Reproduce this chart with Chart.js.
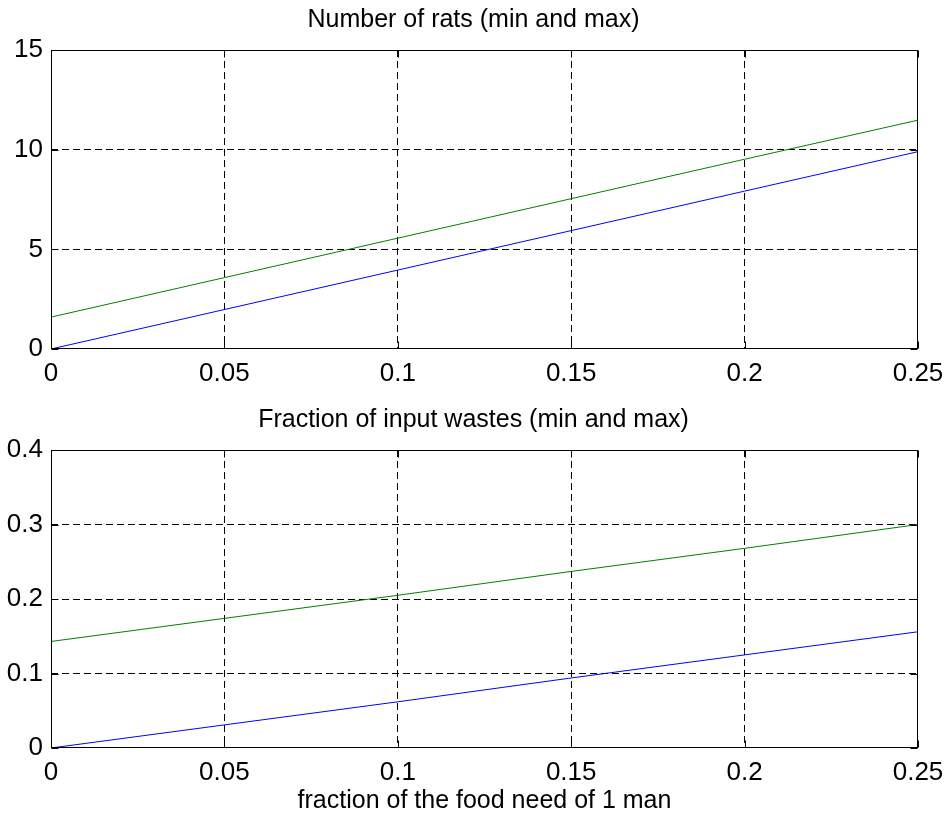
<!DOCTYPE html>
<html>
<head>
<meta charset="utf-8">
<script src="https://cdn.jsdelivr.net/npm/chart.js@4.4.1/dist/chart.umd.min.js"></script>
<style>
  html, body { margin: 0; padding: 0; background: #fff; }
  body { width: 947px; height: 821px; position: relative; overflow: hidden; }
  .box { position: absolute; left: 0; width: 947px; }
  #b1 { top: 0; height: 400px; }
  #b2 { top: 400px; height: 421px; }
</style>
</head>
<body>
<div class="box" id="b1"><canvas id="c1"></canvas></div>
<div class="box" id="b2"><canvas id="c2"></canvas></div>
<script>
// ---- data ----
const xValues = [0, 0.05, 0.1, 0.15, 0.2, 0.25];
const xTickLabels = ['0', '0.05', '0.1', '0.15', '0.2', '0.25'];

const ratsMin = [0, 1.98, 3.96, 5.94, 7.92, 9.9];
const ratsMax = [1.6, 3.58, 5.56, 7.54, 9.52, 11.48];
const ratsTickLabels = ['0', '5', '10', '15'];

const wasteMin = [0, 0.031, 0.062, 0.094, 0.125, 0.156];
const wasteMax = [0.143, 0.174, 0.205, 0.237, 0.268, 0.300];
const wasteTickLabels = ['0', '0.1', '0.2', '0.3', '0.4'];

const title1 = 'Number of rats (min and max)';
const title2 = 'Fraction of input wastes (min and max)';
const xAxisLabel = 'fraction of the food need of 1 man';

// ---- styling ----
const FONT = "'Liberation Sans', Arial, Helvetica, sans-serif";
Chart.defaults.font.family = FONT;
Chart.defaults.color = '#000';

function pts(ys) { return xValues.map((x, i) => ({ x: x, y: ys[i] })); }

const boxPlugin = {
  id: 'matlabBox',
  afterDraw(chart) {
    const { ctx, chartArea: a } = chart;
    const L = Math.round(a.left) + 0.5, R = Math.round(a.right) - 0.5;
    const T = Math.round(a.top) + 0.5, B = Math.round(a.bottom) - 0.5;
    ctx.save();
    ctx.strokeStyle = '#000';
    ctx.lineWidth = 1;
    ctx.setLineDash([]);
    ctx.strokeRect(L, T, R - L, B - T);
    const tl = 7;
    ctx.beginPath();
    const xs = chart.scales.x;
    xs.ticks.forEach(t => {
      const px = Math.round(xs.getPixelForValue(t.value)) + 0.5;
      ctx.moveTo(px, B); ctx.lineTo(px, B - tl);
      ctx.moveTo(px, T); ctx.lineTo(px, T + tl);
    });
    const ys = chart.scales.y;
    ys.ticks.forEach(t => {
      const py = Math.round(ys.getPixelForValue(t.value)) + 0.5;
      ctx.moveTo(L, py); ctx.lineTo(L + tl, py);
      ctx.moveTo(R, py); ctx.lineTo(R - tl, py);
    });
    ctx.stroke();
    ctx.restore();
  }
};

function makeChart(id, titleText, minData, maxData, yMax, yStep, yLabels, xAxisHeight, withXLabel) {
  const gridColor = (c) => {
    const n = c.chart.scales[c.scale.id].ticks.length;
    return (c.index === 0 || c.index === n - 1) ? 'rgba(0,0,0,0)' : '#000';
  };
  return new Chart(document.getElementById(id), {
    type: 'line',
    data: {
      datasets: [
        { data: pts(minData), borderColor: '#0000ff', borderWidth: 1, pointRadius: 0, tension: 0, fill: false },
        { data: pts(maxData), borderColor: '#008000', borderWidth: 1, pointRadius: 0, tension: 0, fill: false }
      ]
    },
    options: {
      responsive: true,
      maintainAspectRatio: false,
      animation: false,
      events: [],
      layout: { padding: 0 },
      plugins: {
        legend: { display: false },
        tooltip: { enabled: false },
        title: {
          display: true,
          text: titleText,
          color: '#000',
          font: { size: 25, weight: 'normal', lineHeight: 1.2 },
          padding: { top: 5, bottom: 15 }
        }
      },
      scales: {
        x: {
          type: 'linear',
          min: 0, max: 0.25,
          ticks: {
            stepSize: 0.05,
            autoSkip: false,
            maxRotation: 0,
            padding: 9,
            font: { size: 26 },
            color: '#000',
            callback: (v, i) => xTickLabels[i]
          },
          grid: { color: gridColor, lineWidth: 1, drawTicks: false, tickLength: 0 },
          border: { display: false, dash: [7, 4] },
          title: {
            display: withXLabel,
            text: xAxisLabel,
            color: '#000',
            font: { size: 25, weight: 'normal', lineHeight: 1.2 },
            padding: { top: 0, bottom: 5 }
          },
          afterFit: (s) => { s.height = xAxisHeight; s.paddingRight = 29; s.paddingLeft = 0; }
        },
        y: {
          type: 'linear',
          min: 0, max: yMax,
          ticks: {
            stepSize: yStep,
            autoSkip: false,
            padding: 8,
            font: { size: 26 },
            color: '#000',
            callback: (v, i) => yLabels[i]
          },
          grid: { color: gridColor, lineWidth: 1, drawTicks: false, tickLength: 0 },
          border: { display: false, dash: [7, 4] },
          afterFit: (s) => { s.width = 51; s.paddingTop = 0; s.paddingBottom = 0; }
        }
      }
    },
    plugins: [boxPlugin]
  });
}

makeChart('c1', title1, ratsMin, ratsMax, 15, 5, ratsTickLabels, 51, false);
makeChart('c2', title2, wasteMin, wasteMax, 0.4, 0.1, wasteTickLabels, 73, true);
</script>
</body>
</html>
